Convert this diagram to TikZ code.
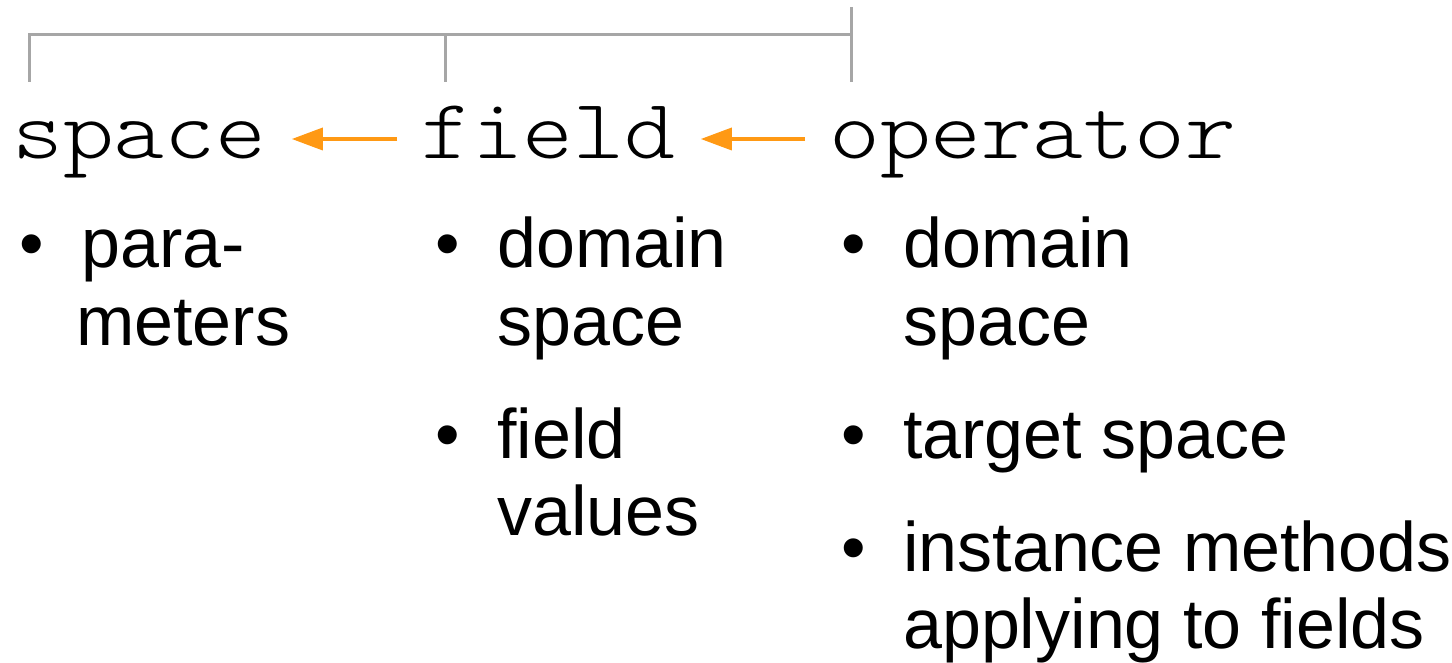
\documentclass[tikz,border=0pt]{standalone}
\usepackage{fontspec}
\setmainfont{Liberation Sans}
\newfontfamily\codefont[FakeStretch=1.14]{Latin Modern Mono Light}
\usetikzlibrary{arrows.meta}

\definecolor{bracketgray}{RGB}{166,166,166}
\definecolor{arroworange}{RGB}{255,153,20}

\begin{document}
\begin{tikzpicture}[x=1pt,y=-1pt,
  classname/.style={inner sep=0pt,anchor=base west,
    font=\codefont\fontsize{85}{85}\selectfont},
  itemline/.style={inner sep=0pt,anchor=base west,
    font=\fontsize{70}{77}\selectfont},
  bulletmark/.style={inner sep=0pt,anchor=base west,
    font=\fontsize{70}{77}\selectfont},
  depends/.style={draw=arroworange,line width=3.5pt,
    -{Triangle[length=31pt,width=22pt]},shorten <=24pt,shorten >=25pt},
  bracket/.style={draw=bracketgray,line width=3pt}
]
\useasboundingbox (0,0) rectangle (1452,663);

% class names
\node[classname] (space)    at (12,159)  {space};
\node[classname] (field)    at (421,159) {field};
\node[classname] (operator) at (829,159) {operator};

% dependency arrows
\draw[depends] ([yshift=20pt]field.base west) -- ([yshift=20pt]space.base east);
\draw[depends] ([yshift=20pt]operator.base west) -- ([yshift=20pt]field.base east);

% bracket joining the three classes
\coordinate (tl) at (29,35);
\coordinate (tm) at (445,35);
\coordinate (tr) at (851,35);
\draw[bracket] (29,82) -- (tl) -- (tr);
\draw[bracket] (tm) -- (445,82);
\draw[bracket] (851,7) -- (851,82);

% space: attributes
\node[bulletmark] (b11) at (19,268) {•};
\node[itemline] (s1a) at (81,268) {para-};
\node[itemline] (s1b) at (76,345) {meters};

% field: attributes
\node[bulletmark] (b21) at (435,268) {•};
\node[itemline] (f1a) at (497,268) {domain};
\node[itemline] (f1b) at (497,345) {space};
\node[bulletmark] (b22) at (435,458) {•};
\node[itemline] (f2a) at (497,458) {field};
\node[itemline] (f2b) at (497,535) {values};

% operator: attributes
\node[bulletmark] (b31) at (841,268) {•};
\node[itemline] (o1a) at (903,268) {domain};
\node[itemline] (o1b) at (903,345) {space};
\node[bulletmark] (b32) at (841,458) {•};
\node[itemline] (o2a) at (903,458) {target space};
\node[bulletmark] (b33) at (841,571) {•};
\node[itemline] (o3a) at (903,571) {instance methods};
\node[itemline] (o3b) at (903,648) {applying to fields};
\end{tikzpicture}
\end{document}
